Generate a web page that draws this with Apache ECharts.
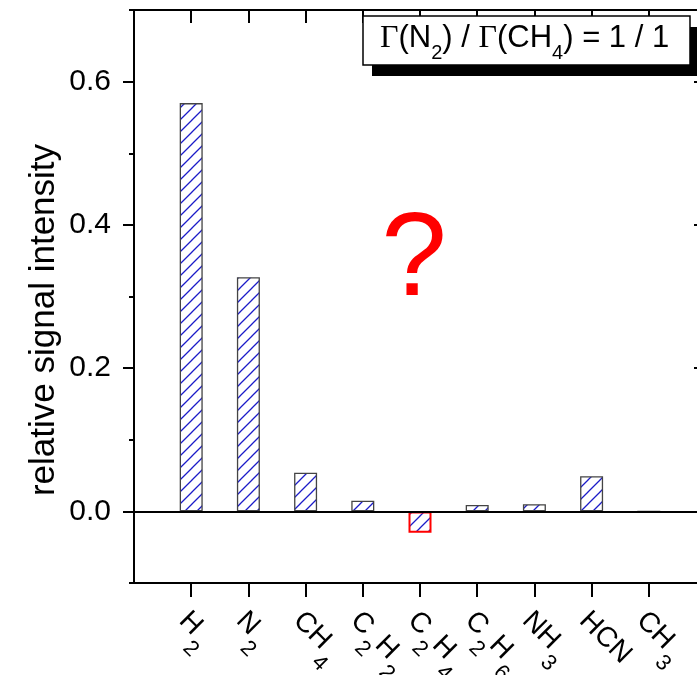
<!DOCTYPE html>
<html>
<head>
<meta charset="utf-8">
<script src="https://cdn.jsdelivr.net/npm/echarts@6/dist/echarts.min.js"></script>
<style>
  html, body { margin: 0; padding: 0; background: #fff; }
  #chart { width: 697px; height: 675px; }
</style>
</head>
<body>
<div id="chart"></div>
<script>
// Species detected and their relative signal intensity
const categories = ['H2', 'N2', 'CH4', 'C2H2', 'C2H4', 'C2H6', 'NH3', 'HCN', 'CH3'];
const intensity = [0.570, 0.327, 0.054, 0.015, -0.030, 0.009, 0.010, 0.049, 0];
// species whose sign is doubtful (outlined in red)
const flagged = ['C2H4'];
// labelled ticks of the intensity axis
const yLabelTicks = [0, 0.2, 0.4, 0.6];
const yTitle = 'relative signal intensity';
const ratioNote = '{g|Γ}{t|(N}{s|2}{t|) / }{g|Γ}{t|(CH}{s|4}{t|) = 1 / 1}';
const questionMark = '?';

const FONT = '"Liberation Sans", Arial, Helvetica, sans-serif';
const SERIF = '"Liberation Serif", "Times New Roman", serif';

// axis ranges
const yMin = -0.1, yMax = 0.7;
const xMin = 0, xMax = categories.length + 1;

// plot frame in pixels
const G = { left: 134, top: 10, width: 572, height: 573 };
const labTop = yLabelTicks[yLabelTicks.length - 1];
const labBottom = yLabelTicks[0];
const pxPerUnit = G.height / (yMax - yMin);

// diagonal hatch used to fill the bars
function hatch() {
  const s = 12;
  const c = document.createElement('canvas');
  c.width = s; c.height = s;
  const ctx = c.getContext('2d');
  ctx.fillStyle = '#ffffff';
  ctx.fillRect(0, 0, s, s);
  ctx.strokeStyle = '#1c1cc8';
  ctx.lineWidth = 1.3;
  ctx.beginPath();
  ctx.moveTo(-1, s + 1); ctx.lineTo(s + 1, -1);
  ctx.moveTo(-2, 2); ctx.lineTo(2, -2);
  ctx.moveTo(s - 2, s + 2); ctx.lineTo(s + 2, s - 2);
  ctx.stroke();
  return c;
}
const hatchFill = { image: hatch(), repeat: 'repeat' };

// chemical formula -> rich text with subscripted digits
function formula(name) {
  return name.replace(/([A-Za-z]+)|(\d+)/g, (m, letters, digits) =>
    letters ? '{m|' + letters + '}' : '{sub|' + digits + '}');
}

const barData = categories.map((name, i) => {
  const isFlagged = flagged.indexOf(name) >= 0;
  return {
    value: [i + 1, intensity[i]],
    itemStyle: isFlagged
      ? { color: hatchFill, borderColor: '#ff0000', borderWidth: 2 }
      : { color: hatchFill, borderColor: '#444444', borderWidth: 1.3 }
  };
});

const chart = echarts.init(document.getElementById('chart'), null, { renderer: 'canvas' });

const axisLine = { show: true, onZero: false, lineStyle: { color: '#000', width: 2 } };

chart.setOption({
  animation: false,
  backgroundColor: '#fff',
  grid: [
    { left: G.left, top: G.top, width: G.width, height: G.height, outerBoundsMode: 'none', containLabel: false },
    {
      left: G.left,
      top: G.top + (yMax - labTop) * pxPerUnit,
      width: G.width,
      height: (labTop - labBottom) * pxPerUnit,
      outerBoundsMode: 'none', containLabel: false
    }
  ],
  xAxis: [
    {
      gridIndex: 0, type: 'value', position: 'bottom', min: xMin, max: xMax, interval: 1,
      axisLine: axisLine,
      axisTick: { show: true, inside: false, length: 14, lineStyle: { color: '#000', width: 2 } },
      splitLine: { show: false },
      axisLabel: {
        show: true, rotate: -45, align: 'left', verticalAlign: 'top', margin: 17,
        padding: [0, 0, 0, 6],
        fontFamily: FONT, fontSize: 28, color: '#000',
        showMinLabel: false, showMaxLabel: false,
        formatter: v => (v >= 1 && v <= categories.length) ? formula(categories[v - 1]) : '',
        rich: {
          m: { fontFamily: FONT, fontSize: 28, color: '#000', verticalAlign: 'top', padding: [3, 0, 0, 0] },
          sub: { fontFamily: FONT, fontSize: 22, color: '#000', verticalAlign: 'top', padding: [24, 0, 0, 2] }
        }
      }
    },
    {
      gridIndex: 0, type: 'value', position: 'top', min: xMin, max: xMax, interval: 1,
      axisLine: axisLine,
      axisTick: { show: true, inside: true, length: 13, lineStyle: { color: '#000', width: 2 } },
      splitLine: { show: false },
      axisLabel: { show: false }
    },
    { gridIndex: 1, type: 'value', min: xMin, max: xMax, show: false }
  ],
  yAxis: [
    {
      // frame axis: odd-tenth minor ticks
      gridIndex: 0, type: 'value', position: 'left', min: yMin, max: yMax, interval: 0.2,
      axisLine: axisLine,
      axisTick: { show: true, inside: false, length: 5, lineStyle: { color: '#000', width: 2 } },
      splitLine: { show: false },
      axisLabel: { show: false }
    },
    {
      gridIndex: 0, type: 'value', position: 'right', min: yMin, max: yMax, interval: 0.2,
      axisLine: axisLine,
      axisTick: { show: true, inside: true, length: 5, lineStyle: { color: '#000', width: 2 } },
      splitLine: { show: false },
      axisLabel: { show: false }
    },
    {
      // labelled major ticks
      gridIndex: 1, type: 'value', position: 'left', min: labBottom, max: labTop, interval: 0.2,
      axisLine: { show: false },
      axisTick: { show: true, inside: false, length: 11, lineStyle: { color: '#000', width: 2 } },
      splitLine: { show: false },
      axisLabel: {
        show: true, margin: 23, fontFamily: FONT, fontSize: 30, color: '#000',
        formatter: v => v.toFixed(1)
      }
    },
    {
      gridIndex: 1, type: 'value', position: 'right', min: labBottom, max: labTop, interval: 0.2,
      axisLine: { show: false },
      axisTick: { show: true, inside: true, length: 12, lineStyle: { color: '#000', width: 2 } },
      splitLine: { show: false },
      axisLabel: { show: false }
    }
  ],
  series: [
    {
      type: 'bar',
      xAxisIndex: 0, yAxisIndex: 0,
      barWidth: 23,
      data: barData,
      markLine: {
        silent: true,
        symbol: ['none', 'none'],
        label: { show: false },
        lineStyle: { color: '#000', width: 2, type: 'solid' },
        data: [{ yAxis: 0 }]
      }
    }
  ],
  graphic: [
    {
      type: 'text', x: 44, y: 320, rotation: Math.PI / 2, z: 10,
      style: {
        text: yTitle, fontFamily: FONT, fontSize: 35, fill: '#000',
        align: 'center', verticalAlign: 'middle'
      }
    },
    {
      type: 'text', x: 414, y: 262, z: 10,
      style: {
        text: questionMark, fontFamily: FONT, fontSize: 118, fill: '#ff0000',
        align: 'center', verticalAlign: 'middle'
      }
    },
    {
      type: 'rect', z: 20,
      shape: { x: 372, y: 27, width: 330, height: 49 },
      style: { fill: '#000' }
    },
    {
      type: 'rect', z: 21,
      shape: { x: 363, y: 16, width: 327, height: 49 },
      style: { fill: '#fff', stroke: '#000', lineWidth: 1.5 }
    },
    {
      type: 'text', x: 380, y: 23, z: 22,
      style: {
        text: ratioNote,
        align: 'left', verticalAlign: 'top',
        rich: {
          g: { fontFamily: SERIF, fontSize: 32, fill: '#000', verticalAlign: 'top' },
          t: { fontFamily: FONT, fontSize: 31, fill: '#000', verticalAlign: 'top' },
          s: { fontFamily: FONT, fontSize: 20, fill: '#000', verticalAlign: 'top', padding: [20, 0, 0, 0] }
        }
      }
    }
  ]
});
</script>
</body>
</html>
